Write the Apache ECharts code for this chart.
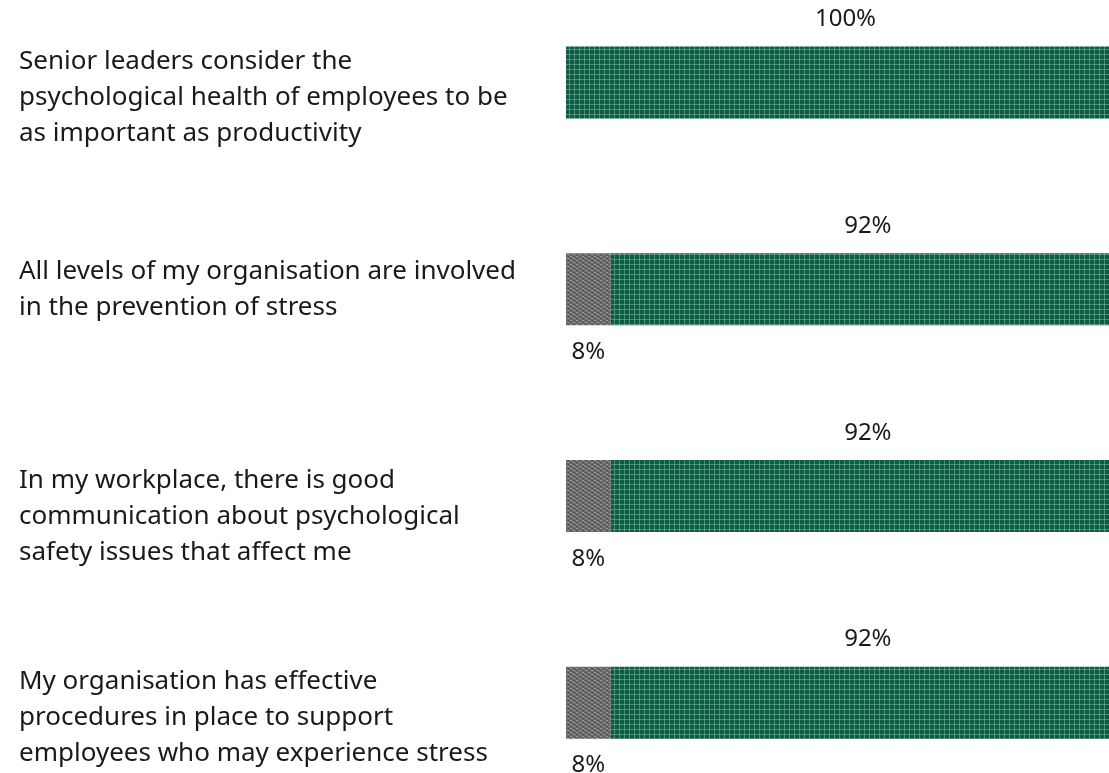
<!DOCTYPE html>
<html>
<head>
<meta charset="utf-8">
<script src="https://cdn.jsdelivr.net/npm/echarts@6/dist/echarts.min.js"></script>
<style>
html,body{margin:0;padding:0;background:#fff;}
#chart{width:1109px;height:773px;}
</style>
</head>
<body>
<div id="chart"></div>
<script>
const categories = [
  'Senior leaders consider the\npsychological health of employees to be\nas important as productivity',
  'All levels of my organisation are involved\nin the prevention of stress',
  'In my workplace, there is good\ncommunication about psychological\nsafety issues that affect me',
  'My organisation has effective\nprocedures in place to support\nemployees who may experience stress'
];
const disagree = [0, 8, 8, 8];
const agree = [100, 92, 92, 92];

// spacer line height prepended to each category label (shifts it down by half)
const labelSpacer = [30, 0, 42, 30];

function greenPattern() {
  const c = document.createElement('canvas');
  c.width = 5; c.height = 5;
  const g = c.getContext('2d');
  g.fillStyle = '#0c5b44';
  g.fillRect(0, 0, 5, 5);
  g.fillStyle = 'rgba(140,195,170,0.5)';
  g.fillRect(4, 0, 1, 5);
  g.fillRect(0, 4, 5, 1);
  return c;
}
function grayPattern() {
  const c = document.createElement('canvas');
  c.width = 6; c.height = 4;
  const g = c.getContext('2d');
  g.fillStyle = '#666666';
  g.fillRect(0, 0, 6, 4);
  g.fillStyle = '#9a9a9a';
  g.fillRect(0, 0, 2, 1);
  g.fillRect(3, 2, 2, 1);
  g.fillStyle = '#7f7f7f';
  g.fillRect(2, 1, 1, 1);
  g.fillRect(5, 3, 1, 1);
  g.fillStyle = '#4e4e4e';
  g.fillRect(4, 0, 1, 1);
  g.fillRect(1, 2, 1, 1);
  return c;
}

const fontFamily = '"Noto Sans", sans-serif';
const rich = {};
labelSpacer.forEach(h => { if (h > 0) rich['s' + h] = {lineHeight: h, fontSize: 1, height: h}; });

const chart = echarts.init(document.getElementById('chart'), null, {renderer: 'canvas'});
chart.setOption({
  animation: false,
  backgroundColor: '#ffffff',
  grid: {left: 566, top: -21, width: 559, height: 827, containLabel: false, outerBoundsMode: 'none'},
  xAxis: {type: 'value', min: 0, max: 100, show: false},
  yAxis: {
    type: 'category',
    inverse: true,
    data: categories,
    axisLine: {show: false},
    axisTick: {show: false},
    axisLabel: {
      align: 'left',
      margin: 547,
      color: '#1a1a1a',
      fontSize: 26,
      lineHeight: 36,
      fontFamily: fontFamily,
      rich: rich,
      formatter: (v, i) => {
        const h = labelSpacer[i];
        return h > 0 ? '{s' + h + '| }\n' + v : v;
      }
    }
  },
  series: [
    {
      name: 'Disagree',
      type: 'bar',
      stack: 'all',
      barWidth: 72,
      data: disagree,
      itemStyle: {color: {image: grayPattern(), repeat: 'repeat'}},
      label: {
        show: true,
        position: 'bottom',
        distance: 15,
        color: '#1a1a1a',
        fontSize: 24,
        fontFamily: fontFamily,
        formatter: p => p.value > 0 ? p.value + '%' : ''
      }
    },
    {
      name: 'Agree',
      type: 'bar',
      stack: 'all',
      barWidth: 72,
      data: agree,
      itemStyle: {color: {image: greenPattern(), repeat: 'repeat'}},
      label: {
        show: true,
        position: 'top',
        distance: 15,
        color: '#1a1a1a',
        fontSize: 24,
        fontFamily: fontFamily,
        formatter: p => p.value + '%'
      }
    }
  ]
});
</script>
</body>
</html>
